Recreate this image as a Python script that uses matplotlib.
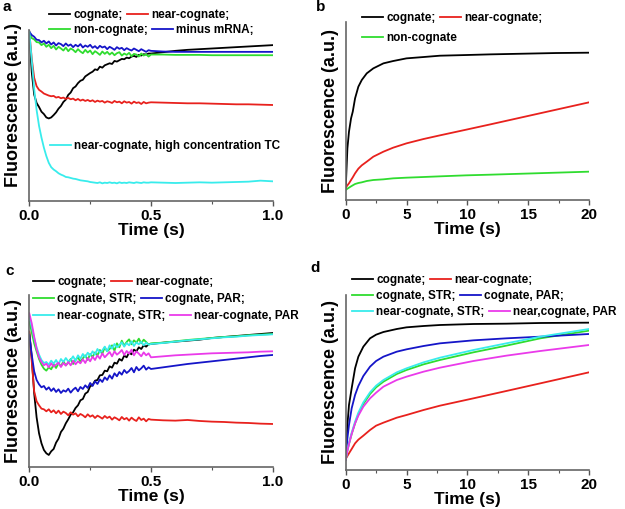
import matplotlib

matplotlib.use("Agg")
import matplotlib.pyplot as plt
import numpy as np
from matplotlib.font_manager import FontProperties
from matplotlib.legend import Legend

plt.rcParams["font.family"] = ["Liberation Sans", "DejaVu Sans"]
plt.rcParams["font.weight"] = "bold"

W, H = 625, 509

# ---- time grids -------------------------------------------------------
T_FAST = np.arange(51) * 0.01  # 0 .. 0.50 s, noisy part of stopped-flow traces
T_SLOW = [0.55, 0.60, 0.65, 0.70, 0.75, 0.80, 0.85, 0.90, 0.95, 1.00]
T_A = np.concatenate([T_FAST, T_SLOW])

T_B = [0, 0.14, 0.27, 0.44, 0.58, 0.77, 1.04, 1.32, 1.73, 2.27, 3.1, 3.9,
       5.0, 6.4, 7.75, 9.9, 11.9, 14.6, 17.3, 20]
T_D = [0, 0.14, 0.27, 0.49, 0.77, 1.04, 1.45, 2.0, 2.5, 3.1, 4.2, 5.0,
       6.4, 7.75, 10.5, 13.2, 16, 20]

# ---- panel a (a.u.) ---------------------------------------------------
a_cognate = [505, 385, 318, 293, 281, 267, 260, 250, 247, 250, 257, 265, 276, 284, 296, 303, 317,
             324, 337, 342, 352, 359, 362, 372, 377, 382, 386, 393, 391, 401, 398, 405, 408, 411,
             409, 418, 416, 420, 424, 423, 428, 426, 431, 433, 430, 436, 434, 438, 437, 440, 440,
             444, 448, 451, 453, 455, 457, 459, 461, 463, 465]
a_near = [505, 425, 368, 343, 332, 327, 321, 318, 315, 313, 314, 309, 311, 307, 309, 305, 308,
          304, 306, 301, 305, 300, 303, 299, 302, 298, 301, 296, 300, 297, 299, 294, 298, 296,
          293, 299, 295, 297, 292, 298, 294, 296, 291, 297, 293, 295, 290, 296, 292, 294, 295,
          294, 293, 292, 292, 291, 290, 289, 289, 288, 287]
a_non = [500, 486, 482, 474, 473, 465, 470, 460, 466, 456, 463, 452, 460, 455, 449, 458, 447,
         455, 451, 444, 453, 446, 441, 451, 443, 449, 438, 447, 442, 436, 446, 439, 445, 437,
         443, 435, 441, 444, 434, 440, 436, 442, 432, 439, 437, 431, 440, 434, 438, 431, 437,
         437, 436, 436, 436, 435, 435, 435, 435, 435, 435]
a_minus = [505, 495, 490, 481, 480, 473, 478, 470, 476, 467, 473, 464, 471, 468, 462, 470, 463,
           467, 459, 466, 461, 468, 458, 464, 460, 466, 457, 462, 455, 463, 458, 461, 453, 460,
           456, 451, 459, 454, 457, 450, 456, 452, 449, 455, 451, 447, 453, 449, 445, 450, 448,
           446, 445, 445, 445, 445, 445, 445, 445, 445, 445]
a_high_tc = [505, 420, 335, 272, 225, 190, 160, 135, 115, 102, 95, 90, 84, 80, 77, 73, 72,
             70, 68, 67, 65, 63, 62, 61, 60, 58, 57, 56, 55, 57, 54, 56, 55, 57, 55, 56,
             54, 57, 55, 56, 55, 57, 56, 55, 57, 56, 55, 57, 56, 56, 57,
             56, 55, 56, 57, 56, 57, 58, 59, 62, 60]

# ---- panel b ----------------------------------------------------------
b_cognate = [35, 155, 205, 245, 265, 305, 340, 360, 380, 395, 410, 417, 425, 429, 433, 435,
             437, 439, 441, 442]
b_near = [37, 44, 50, 60, 68, 80, 94, 104, 115, 130, 145, 157, 170, 183, 194, 211, 227, 249,
          271, 293]
b_non = [30, 34, 37, 41, 44, 48, 51, 53, 57, 60, 62, 65, 67, 69, 71, 74, 76, 79, 82, 85]

# ---- panel c ----------------------------------------------------------
c_cognate = [405, 330, 222, 150, 102, 72, 52, 42, 37, 48, 55, 74, 86, 106, 116, 132, 144, 158,
             165, 178, 186, 201, 205, 221, 226, 243, 247, 260, 262, 276, 277, 290, 288, 303,
             299, 314, 311, 325, 320, 335, 330, 344, 339, 353, 348, 360, 355, 366, 362, 369, 370,
             374, 377, 380, 383, 388, 391, 394, 397, 400, 403]
c_near = [407, 318, 228, 198, 186, 176, 174, 168, 174, 165, 171, 162, 170, 160, 167, 163, 156,
          165, 158, 162, 153, 160, 156, 150, 159, 152, 156, 148, 155, 151, 146, 154, 148, 152,
          143, 150, 146, 141, 151, 144, 148, 140, 149, 143, 139, 150, 142, 146, 138, 145, 143,
          141, 140, 142, 139, 137, 136, 134, 133, 131, 130]
c_cog_str = [437, 405, 372, 348, 325, 308, 296, 290, 300, 294, 309, 298, 312, 303, 318, 306,
             314, 325, 310, 322, 330, 317, 327, 336, 322, 340, 331, 345, 336, 352, 341, 360,
             348, 355, 366, 350, 372, 360, 380, 365, 376, 384, 369, 381, 374, 386, 372, 383,
             376, 368, 372,
             374, 378, 382, 385, 388, 391, 393, 396, 398, 400]
c_cog_par = [397, 338, 288, 262, 249, 240, 244, 233, 240, 229, 237, 226, 234, 223, 231, 227,
             236, 224, 233, 239, 228, 241, 235, 246, 238, 253, 244, 258, 250, 264, 256, 270,
             262, 276, 266, 282, 273, 286, 278, 292, 283, 289, 298, 285, 301, 291, 297, 305,
             293, 300, 295,
             300, 305, 310, 314, 318, 322, 326, 330, 334, 337]
c_near_str = [452, 422, 388, 360, 338, 322, 313, 316, 308, 320, 311, 322, 309, 325, 316, 328,
              318, 322, 333, 320, 336, 326, 340, 330, 344, 335, 348, 338, 355, 344, 351, 362,
              348, 366, 356, 370, 360, 367, 375, 362, 373, 366, 378, 364, 375, 369, 377, 366,
              374, 368, 370,
              373, 377, 381, 384, 387, 390, 392, 395, 397, 399]
c_near_par = [462, 432, 392, 356, 330, 316, 306, 311, 300, 312, 302, 308, 314, 301, 313, 305,
              316, 306, 320, 309, 318, 312, 324, 313, 328, 318, 332, 322, 336, 326, 342, 330,
              338, 346, 333, 348, 338, 344, 352, 337, 349, 341, 353, 336, 348, 341, 333, 345,
              336, 342, 330,
              333, 336, 338, 340, 342, 343, 344, 345, 347, 348]

# ---- panel d ----------------------------------------------------------
d_cognate = [35, 135, 195, 245, 305, 340, 370, 395, 406, 414, 423, 428, 432, 435, 438, 439, 441, 442]
d_near = [33, 42, 50, 63, 80, 91, 103, 120, 133, 142, 157, 165, 180, 193, 215, 237, 260, 293]
d_cog_str = [30, 58, 78, 108, 140, 167, 198, 228, 248, 265, 288, 300, 317, 330, 353, 373, 395, 418]
d_cog_par = [35, 95, 135, 185, 225, 252, 282, 310, 327, 340, 355, 362, 372, 380, 389, 395, 400, 408]
d_near_str = [30, 60, 82, 112, 145, 172, 203, 233, 253, 270, 293, 305, 323, 337, 360, 380, 400, 423]
d_near_par = [30, 58, 78, 108, 140, 163, 190, 215, 232, 250, 270, 280, 295, 307, 327, 343, 357, 375]

BLACK, RED, GREEN = "#000000", "#e8211d", "#2fdc2f"
BLUE, CYAN, MAGENTA = "#1515c8", "#38ecec", "#ea3aea"
LW = 1.3

fig = plt.figure(figsize=(W / 100, H / 100), dpi=100)


def make_axes(left_px, top_px, right_px, bottom_px, label_y=0.5):
    ax = fig.add_axes([left_px / W, 1 - bottom_px / H,
                       (right_px - left_px) / W, (bottom_px - top_px) / H])
    for side in ("top", "right"):
        ax.spines[side].set_visible(False)
    for side in ("left", "bottom"):
        ax.spines[side].set_color("#666666")
        ax.spines[side].set_linewidth(1.2)
    ax.set_yticks([])
    ax.tick_params(axis="x", which="major", direction="out", length=3.5, width=1,
                   color="#555555", pad=2, labelsize=11)
    ax.tick_params(axis="x", which="minor", direction="out", length=2.2, width=0.8,
                   color="#555555")
    ax.set_xlabel("Time (s)", fontsize=12.5, fontweight="bold", labelpad=0)
    ax.set_ylabel("Fluorescence (a.u.)", fontsize=13, fontweight="bold")
    ax.yaxis.set_label_coords(-7 / (right_px - left_px), label_y)
    return ax


def row_legend(ax, handles, labels, x_px, y_px):
    # one legend per text row; the rows are not column-aligned in the figure
    prop = FontProperties(family="Liberation Sans", weight="bold", size=8.5)
    leg = Legend(ax, handles, labels, ncol=len(handles), loc="center left",
                 bbox_to_anchor=(x_px / W, 1 - y_px / H),
                 bbox_transform=fig.transFigure, frameon=False, borderpad=0,
                 borderaxespad=0, handlelength=1.8, handletextpad=0.25,
                 columnspacing=0.35, prop=prop)
    ax.add_artist(leg)


# ---- a ----
ax = make_axes(29.3, 30, 272.7, 201.5, label_y=0.56)
la1, = ax.plot(T_A, a_cognate, color=BLACK, lw=LW)
la2, = ax.plot(T_A, a_near, color=RED, lw=LW)
la3, = ax.plot(T_A, a_non, color=GREEN, lw=LW)
la4, = ax.plot(T_A, a_minus, color=BLUE, lw=LW)
la5, = ax.plot(T_A, a_high_tc, color=CYAN, lw=LW)
ax.set_xlim(0, 1.0)
ax.set_ylim(0, 510)
ax.set_xticks([0, 0.5, 1.0])
ax.set_xticklabels(["0.0", "0.5", "1.0"])
ax.set_xticks([0.25, 0.75], minor=True)
row_legend(ax, [la1, la2], ["cognate;", "near-cognate;"], 49, 15)
row_legend(ax, [la3, la4], ["non-cognate;", "minus mRNA;"], 49, 30)
row_legend(ax, [la5], ["near-cognate, high concentration TC"], 50, 146)

# ---- b ----
ax = make_axes(345.7, 21.7, 589, 200)
lb1, = ax.plot(T_B, b_cognate, color=BLACK, lw=LW)
lb2, = ax.plot(T_B, b_near, color=RED, lw=LW)
lb3, = ax.plot(T_B, b_non, color=GREEN, lw=LW)
ax.set_xlim(0, 20)
ax.set_ylim(0, 535)
ax.set_xticks([0, 5, 10, 15, 20])
ax.set_xticks([2.5, 7.5, 12.5, 17.5], minor=True)
row_legend(ax, [lb1, lb2], ["cognate;", "near-cognate;"], 362, 18)
row_legend(ax, [lb3], ["non-cognate"], 362, 38)

# ---- c ----
ax = make_axes(29.3, 295, 272.7, 467.3)
lc1, = ax.plot(T_A, c_cognate, color=BLACK, lw=LW)
lc2, = ax.plot(T_A, c_near, color=RED, lw=LW)
lc3, = ax.plot(T_A, c_cog_str, color=GREEN, lw=LW)
lc4, = ax.plot(T_A, c_cog_par, color=BLUE, lw=LW)
lc5, = ax.plot(T_A, c_near_str, color=CYAN, lw=LW)
lc6, = ax.plot(T_A, c_near_par, color=MAGENTA, lw=LW)
ax.set_xlim(0, 1.0)
ax.set_ylim(0, 517)
ax.set_xticks([0, 0.5, 1.0])
ax.set_xticklabels(["0.0", "0.5", "1.0"])
ax.set_xticks([0.25, 0.75], minor=True)
row_legend(ax, [lc1, lc2], ["cognate;", "near-cognate;"], 33, 282)
row_legend(ax, [lc3, lc4], ["cognate, STR;", "cognate, PAR;"], 33, 299)
row_legend(ax, [lc5, lc6], ["near-cognate, STR;", "near-cognate, PAR"], 33, 316)

# ---- d ----
ax = make_axes(345.7, 295, 589, 470)
ld1, = ax.plot(T_D, d_cognate, color=BLACK, lw=LW)
ld2, = ax.plot(T_D, d_near, color=RED, lw=LW)
ld3, = ax.plot(T_D, d_cog_str, color=GREEN, lw=LW)
ld4, = ax.plot(T_D, d_cog_par, color=BLUE, lw=LW)
ld5, = ax.plot(T_D, d_near_str, color=CYAN, lw=LW)
ld6, = ax.plot(T_D, d_near_par, color=MAGENTA, lw=LW)
ax.set_xlim(0, 20)
ax.set_ylim(0, 525)
ax.set_xticks([0, 5, 10, 15, 20])
ax.set_xticks([2.5, 7.5, 12.5, 17.5], minor=True)
row_legend(ax, [ld1, ld2], ["cognate;", "near-cognate;"], 352, 280)
row_legend(ax, [ld3, ld4], ["cognate, STR;", "cognate, PAR;"], 352, 296)
row_legend(ax, [ld5, ld6], ["near-cognate, STR;", "near,cognate, PAR"], 352, 312)

# panel letters
for letter, x_px, y_px in (("a", 7, 7), ("b", 321, 7), ("c", 10, 271), ("d", 315, 268)):
    fig.text(x_px / W, 1 - y_px / H, letter, fontsize=11, fontweight="bold",
             ha="center", va="center")

fig.savefig("out.png", dpi=100)
